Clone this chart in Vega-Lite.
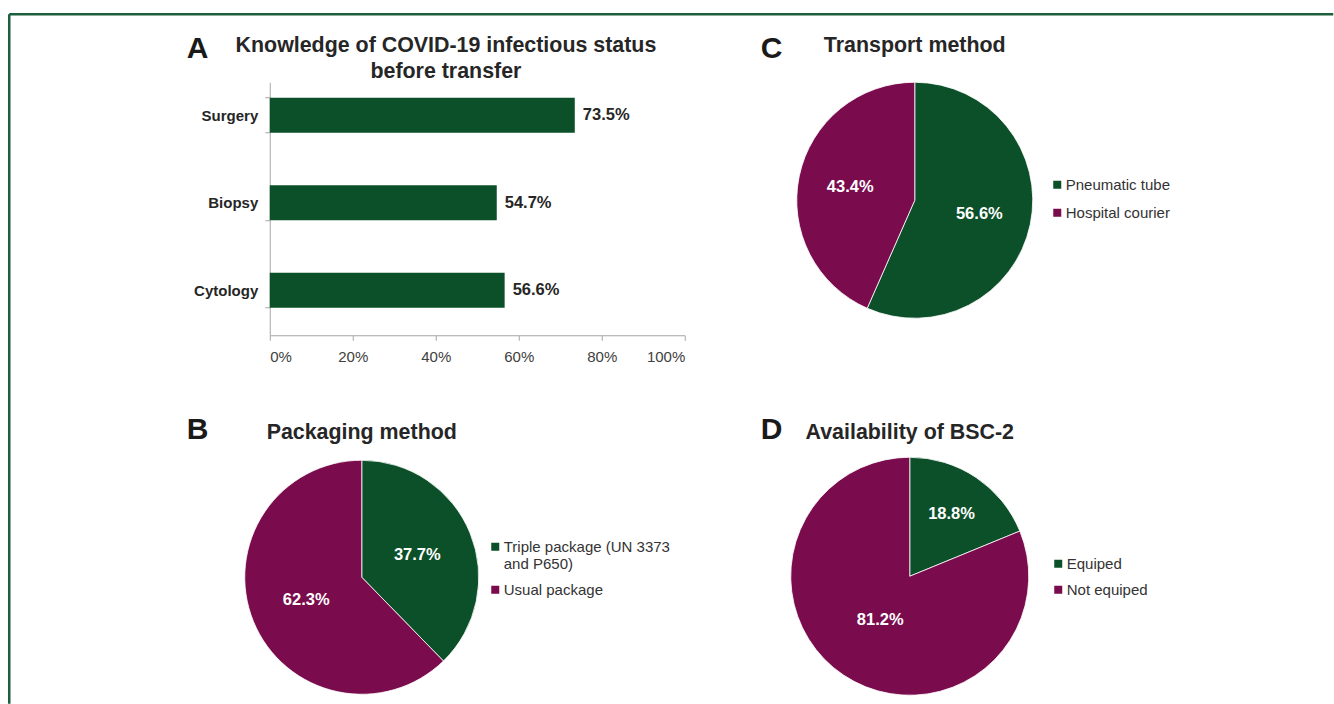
{
  "$schema": "https://vega.github.io/schema/vega-lite/v6.json",
  "padding": {"left": 8.75, "top": 13.25, "right": 0, "bottom": 0},
  "background": "#ffffff",
  "config": {
    "font": "Liberation Sans",
    "view": {"stroke": null},
    "title": {"font": "Liberation Sans", "fontWeight": "bold", "color": "#262626", "frame": "group"},
    "legend": {"padding": 0, "title": null, "symbolType": "square", "symbolSize": 64, "symbolStrokeWidth": 0, "labelFontSize": 15, "labelColor": "#333333", "labelFont": "Liberation Sans", "labelOffset": 1, "labelLimit": 400}
  },
  "resolve": {"scale": {"color": "independent", "theta": "independent"}, "legend": {"color": "independent"}},
  "bounds": "flush",
  "spacing": 375,
  "vconcat": [
    {
      "bounds": "flush",
      "spacing": 0,
      "resolve": {"scale": {"color": "independent", "theta": "independent"}, "legend": {"color": "independent"}},
      "hconcat": [
        {
          "width": 83, "height": 1,
          "title": {"text": "A", "fontSize": 30, "anchor": "start", "offset": 18.5, "color": "#1a1a1a"},
          "data": {"values": [{}]},
          "mark": {"type": "point", "size": 0, "opacity": 0},
          "encoding": {}
        },
        {
          "width": 415,
          "height": 253,
          "title": {"text": ["Knowledge of COVID-19 infectious status", "before transfer"], "fontSize": 21.4, "lineHeight": 26, "anchor": "middle", "frame": "bounds", "dx": 6.5, "offset": -7},
          "data": {"values": [
            {"type": "Surgery", "pct": 0.735},
            {"type": "Biopsy", "pct": 0.547},
            {"type": "Cytology", "pct": 0.566}
          ]},
          "encoding": {
            "y": {"field": "type", "type": "nominal", "sort": null,
              "scale": {"paddingInner": 0.6, "paddingOuter": 0.2457, "align": 0.36},
              "axis": {"title": null, "tickBand": "extent", "tickSize": 5, "tickColor": "#a6a6a6", "domainColor": "#a6a6a6", "labelFontSize": 15, "labelFontWeight": "bold", "labelColor": "#262626", "labelPadding": 7, "grid": false}},
            "x": {"field": "pct", "type": "quantitative",
              "scale": {"domain": [0, 1]},
              "axis": {"title": null, "values": [0, 0.2, 0.4, 0.6, 0.8, 1], "format": ".0%", "tickSize": 5, "tickColor": "#a6a6a6", "domainColor": "#a6a6a6", "labelFontSize": 15, "labelColor": "#404040", "labelPadding": 9, "grid": false}}
          },
          "layer": [
            {"mark": {"type": "bar", "color": "#0b5028"}},
            {"mark": {"type": "text", "align": "left", "baseline": "middle", "dx": 8, "fontWeight": "bold", "fontSize": 16.5, "color": "#262626"},
             "encoding": {"text": {"field": "pct", "type": "quantitative", "format": ".1%"}}}
          ]
        },
        {
          "width": 112, "height": 1,
          "title": {"text": "C", "fontSize": 30, "anchor": "start", "dx": 76, "offset": 18.5, "color": "#1a1a1a"},
          "data": {"values": [{}]},
          "mark": {"type": "point", "size": 0, "opacity": 0},
          "encoding": {}
        },
        {
          "width": 236,
          "height": 236,
          "title": {"text": "Transport method", "fontSize": 21.4, "anchor": "middle", "offset": 24},
          "data": {"values": [
            {"cat": "Pneumatic tube", "share": 0.566, "k": 1},
            {"cat": "Hospital courier", "share": 0.434, "k": 2}
          ]},
          "encoding": {
            "theta": {"field": "share", "type": "quantitative", "stack": true},
            "order": {"field": "k"}
          },
          "layer": [
            {"mark": {"type": "arc", "stroke": "#ffffff", "strokeWidth": 0.8},
             "encoding": {"color": {"field": "cat", "type": "nominal", "scale": {"domain": ["Pneumatic tube", "Hospital courier"], "range": ["#0b5028", "#7a0b4c"]},
               "legend": {"orient": "none", "legendX": 253, "legendY": 95, "rowPadding": 12}}}},
            {"mark": {"type": "text", "radius": 66, "fontWeight": "bold", "fontSize": 16.5, "color": "#ffffff"},
             "encoding": {"detail": {"field": "cat"}, "text": {"field": "share", "type": "quantitative", "format": ".1%"}}}
          ]
        }
      ]
    },
    {
      "bounds": "flush",
      "spacing": 0,
      "resolve": {"scale": {"color": "independent", "theta": "independent"}, "legend": {"color": "independent"}},
      "hconcat": [
        {
          "width": 58, "height": 1,
          "title": {"text": "B", "fontSize": 30, "anchor": "start", "offset": 12, "color": "#1a1a1a"},
          "data": {"values": [{}]},
          "mark": {"type": "point", "size": 0, "opacity": 0},
          "encoding": {}
        },
        {
          "width": 234,
          "height": 240,
          "title": {"text": "Packaging method", "fontSize": 21.4, "anchor": "middle", "offset": 13.5},
          "data": {"values": [
            {"cat": "Triple package (UN 3373 and P650)", "share": 0.377, "k": 1},
            {"cat": "Usual package", "share": 0.623, "k": 2}
          ]},
          "encoding": {
            "theta": {"field": "share", "type": "quantitative", "stack": true},
            "order": {"field": "k"}
          },
          "layer": [
            {"mark": {"type": "arc", "stroke": "#ffffff", "strokeWidth": 0.8},
             "encoding": {"color": {"field": "cat", "type": "nominal", "scale": {"domain": ["Triple package (UN 3373 and P650)", "Usual package"], "range": ["#0b5028", "#7a0b4c"]},
               "legend": {"orient": "none", "legendX": 243, "legendY": 82, "rowPadding": 10,
                 "labelExpr": "datum.label == 'Triple package (UN 3373 and P650)' ? ['Triple package (UN 3373', 'and P650)'] : datum.label"}}}},
            {"mark": {"type": "text", "radius": 60, "fontWeight": "bold", "fontSize": 16.5, "color": "#ffffff"},
             "encoding": {"detail": {"field": "cat"}, "text": {"field": "share", "type": "quantitative", "format": ".1%"}}}
          ]
        },
        {
          "width": 312, "height": 1,
          "title": {"text": "D", "fontSize": 30, "anchor": "start", "dx": 282, "offset": 12, "color": "#1a1a1a"},
          "data": {"values": [{}]},
          "mark": {"type": "point", "size": 0, "opacity": 0},
          "encoding": {}
        },
        {
          "width": 238,
          "height": 238,
          "title": {"text": "Availability of BSC-2", "fontSize": 21.4, "anchor": "middle", "offset": 12.5},
          "data": {"values": [
            {"cat": "Equiped", "share": 0.188, "k": 1},
            {"cat": "Not equiped", "share": 0.812, "k": 2}
          ]},
          "encoding": {
            "theta": {"field": "share", "type": "quantitative", "stack": true},
            "order": {"field": "k"}
          },
          "layer": [
            {"mark": {"type": "arc", "stroke": "#ffffff", "strokeWidth": 0.8},
             "encoding": {"color": {"field": "cat", "type": "nominal", "scale": {"domain": ["Equiped", "Not equiped"], "range": ["#0b5028", "#7a0b4c"]},
               "legend": {"orient": "none", "legendX": 260, "legendY": 99, "rowPadding": 10}}}},
            {"mark": {"type": "text", "fontWeight": "bold", "fontSize": 16.5, "color": "#ffffff"},
             "encoding": {"detail": {"field": "cat"},
               "radius": {"field": "share", "type": "quantitative", "scale": {"type": "linear", "zero": false, "domain": [0.188, 0.812], "range": [75, 53]}},
               "text": {"field": "share", "type": "quantitative", "format": ".1%"}}}
          ]
        },
        {
          "width": 1, "height": 1,
          "data": {"values": [{}]},
          "mark": {"type": "point", "size": 0, "opacity": 0},
          "encoding": {
            "x": {"datum": 0, "type": "quantitative", "scale": {"domain": [0, 1], "range": [-1020, 304]}, "axis": {"orient": "top", "offset": 443.5, "labels": false, "ticks": false, "grid": false, "title": null, "domainColor": "#1d5e3c", "domainWidth": 2.5}},
            "y": {"datum": 0, "type": "quantitative", "scale": {"domain": [0, 1], "range": [246, -443.5]}, "axis": {"orient": "left", "offset": 1020, "labels": false, "ticks": false, "grid": false, "title": null, "domainColor": "#1d5e3c", "domainWidth": 2.5}}
          }
        }
      ]
    }
  ]
}
